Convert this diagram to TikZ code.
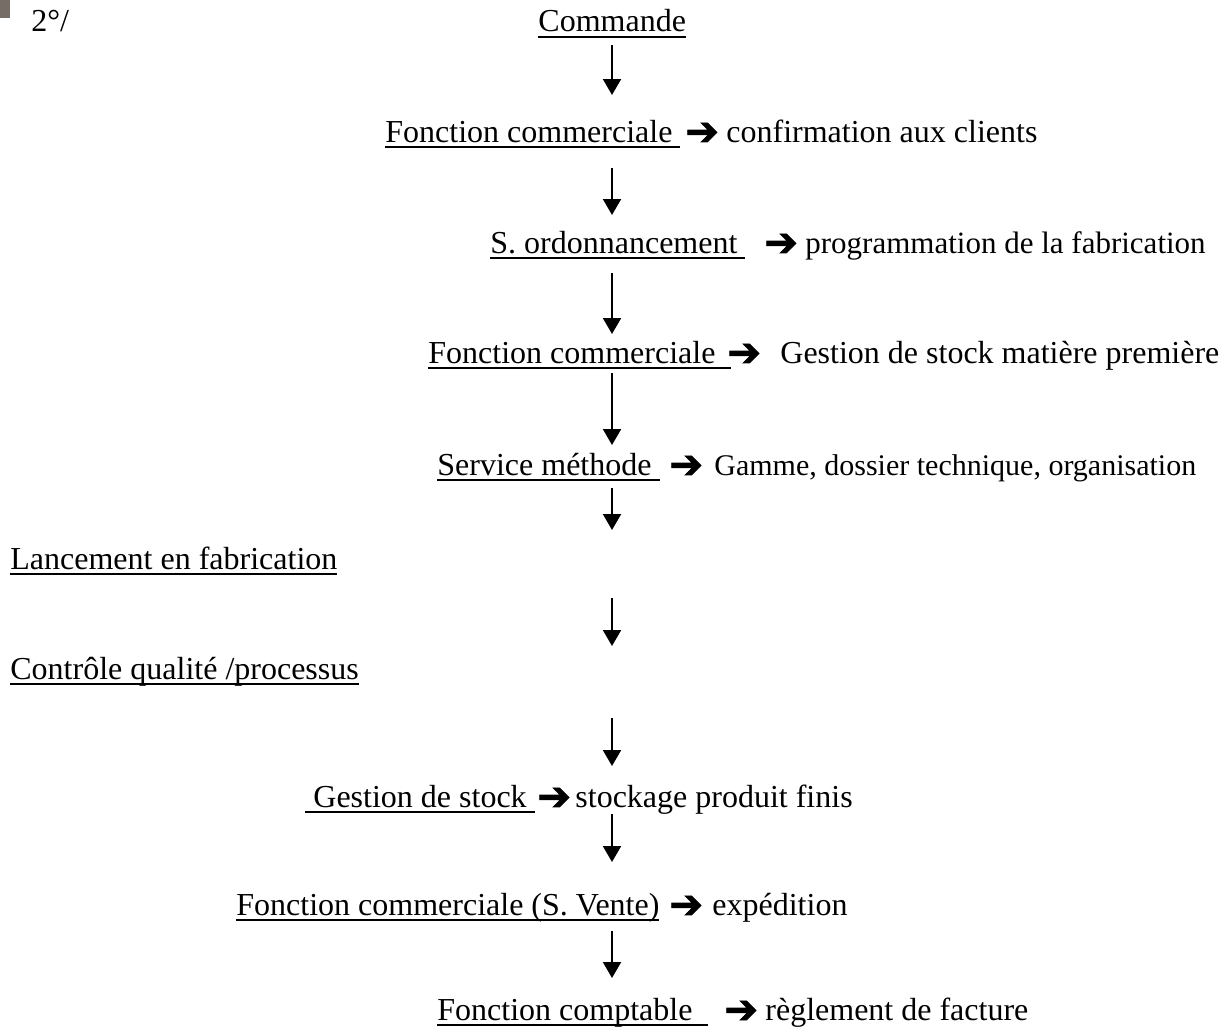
\documentclass[tikz,border=0pt]{standalone}
\usepackage{fontspec}
\setmainfont{Liberation Serif}
\newfontfamily\arrowfont[FakeBold=2]{DejaVu Sans}
\usetikzlibrary{arrows.meta}

\newsavebox\ulbox
\newcommand{\ulin}[1]{\sbox\ulbox{#1}\rlap{\rule[-3pt]{\wd\ulbox}{1pt}}\usebox\ulbox}
\newcommand{\ra}{\raisebox{-1.5pt}{\fontsize{20}{20}\arrowfont ➔}}
\definecolor{patchgrey}{RGB}{118,110,102}

\begin{document}
\begin{tikzpicture}[x=0.5pt, y=-0.5pt, font=\fontsize{16}{19}\selectfont,
        txt/.style={anchor=base west, inner sep=0pt},
        flow/.style={line width=1pt, -{Triangle[length=8pt,width=9pt]}}]
        \useasboundingbox (0,0) rectangle (1230,1033);
        \fill[patchgrey] (0,0) rectangle (10,18);

        \node[txt] (num) at (31,32) {2°/};
        \node[txt] (cmd) at (538,32) {\ulin{Commande}};

        \node[txt] (fc1) at (385,142) {\ulin{Fonction commerciale }};
        \node[txt] (fc1r) at (685,142) {\ra};
        \node[txt] (fc1t) at (726,142) {confirmation aux clients};

        \node[txt] (ord) at (490,253) {\ulin{S. ordonnancement }};
        \node[txt] (ordr) at (764,253) {\ra};
        \node[txt] (ordt) at (805,253) {\fontsize{15.5}{19}\selectfont programmation de la fabrication};

        \node[txt] (fc2) at (428,363) {\ulin{Fonction commerciale \ }};
        \node[txt] (fc2r) at (727,363) {\ra};
        \node[txt] (fc2t) at (780,363) {Gestion de stock matière première};

        \node[txt] (meth) at (437,475) {\ulin{Service méthode }};
        \node[txt] (methr) at (669,475) {\ra};
        \node[txt] (metht) at (714,475) {\fontsize{15}{19}\selectfont Gamme, dossier technique, organisation};

        \node[txt] (lanc) at (10,569) {\ulin{Lancement en fabrication}};
        \node[txt] (ctrl) at (10,679) {\ulin{Contrôle qualité /processus}};

        \node[txt] (stk) at (305,807) {\ulin{\ Gestion de stock }};
        \node[txt] (stkr) at (537,807) {\ra};
        \node[txt] (stkt) at (575,807) {stockage produit finis};

        \node[txt] (vte) at (236,915) {\ulin{Fonction commerciale (S. Vente)}};
        \node[txt] (vter) at (669,915) {\ra};
        \node[txt] (vtet) at (712,915) {expédition};

        \node[txt] (cpt) at (437,1020) {\ulin{Fonction comptable \ }};
        \node[txt] (cptr) at (724,1020) {\ra};
        \node[txt] (cptt) at (765,1020) {règlement de facture};

        % vertical links, all on the same axis
        \coordinate (a1) at (612,45);  \coordinate (b1) at (612,95);
        \coordinate (a2) at (612,168); \coordinate (b2) at (612,215);
        \coordinate (a3) at (612,273); \coordinate (b3) at (612,334);
        \coordinate (a4) at (612,373); \coordinate (b4) at (612,445);
        \coordinate (a5) at (612,488); \coordinate (b5) at (612,530);
        \coordinate (a6) at (612,598); \coordinate (b6) at (612,646);
        \coordinate (a7) at (612,718); \coordinate (b7) at (612,766);
        \coordinate (a8) at (612,814); \coordinate (b8) at (612,862);
        \coordinate (a9) at (612,931); \coordinate (b9) at (612,978);
        \draw[flow] (a1) -- (b1);
        \draw[flow] (a2) -- (b2);
        \draw[flow] (a3) -- (b3);
        \draw[flow] (a4) -- (b4);
        \draw[flow] (a5) -- (b5);
        \draw[flow] (a6) -- (b6);
        \draw[flow] (a7) -- (b7);
        \draw[flow] (a8) -- (b8);
        \draw[flow] (a9) -- (b9);
\end{tikzpicture}
\end{document}
